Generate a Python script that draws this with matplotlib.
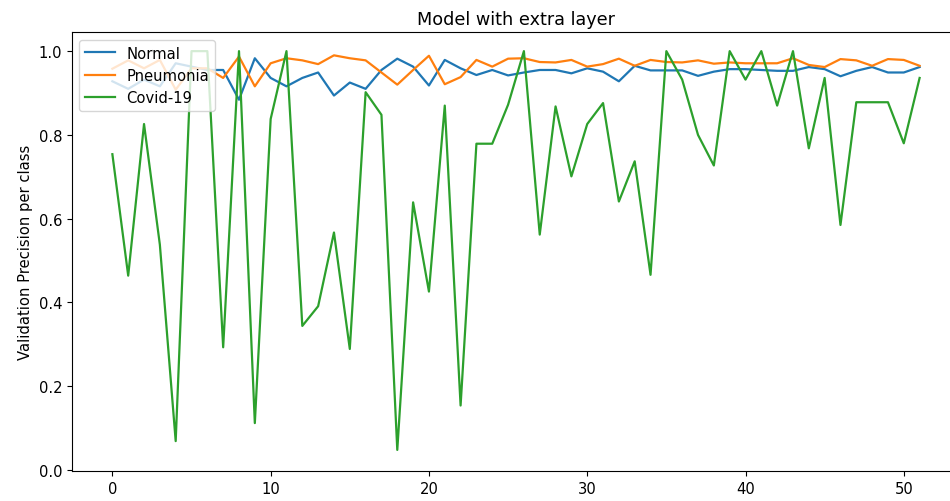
import matplotlib
matplotlib.use("Agg")
import matplotlib.pyplot as plt

#
# Values (52 epochs)
#
normal = [0.928, 0.910, 0.932, 0.916, 0.971, 0.963, 0.955, 0.955, 0.884, 0.983,
          0.936, 0.916, 0.936, 0.949, 0.894, 0.925, 0.910, 0.955, 0.982, 0.963,
          0.918, 0.979, 0.959, 0.943, 0.955, 0.942, 0.949, 0.955, 0.955, 0.947,
          0.959, 0.951, 0.928, 0.965, 0.954, 0.954, 0.954, 0.941, 0.951, 0.957,
          0.957, 0.955, 0.953, 0.953, 0.962, 0.957, 0.940, 0.953, 0.962, 0.949,
          0.949, 0.962]

pneumonia = [0.958, 0.978, 0.959, 0.979, 0.908, 0.959, 0.959, 0.936, 0.987, 0.916,
             0.971, 0.983, 0.978, 0.969, 0.990, 0.983, 0.978, 0.949, 0.920, 0.955,
             0.989, 0.921, 0.938, 0.979, 0.963, 0.982, 0.983, 0.974, 0.973, 0.979,
             0.963, 0.969, 0.982, 0.965, 0.979, 0.974, 0.973, 0.978, 0.970, 0.973,
             0.971, 0.971, 0.971, 0.983, 0.967, 0.962, 0.981, 0.978, 0.965, 0.981,
             0.979, 0.965]

covid = [0.754, 0.464, 0.826, 0.538, 0.069, 1.0, 1.0, 0.293, 1.0, 0.112,
         0.838, 1.0, 0.344, 0.391, 0.567, 0.289, 0.902, 0.848, 0.048, 0.639,
         0.426, 0.870, 0.154, 0.779, 0.779, 0.872, 1.0, 0.562, 0.868, 0.701,
         0.826, 0.876, 0.641, 0.737, 0.466, 1.0, 0.932, 0.800, 0.727, 1.0,
         0.932, 1.0, 0.870, 1.0, 0.768, 0.936, 0.585, 0.878, 0.878, 0.878,
         0.780, 0.936]

labels = ["Normal", "Pneumonia", "Covid-19"]

# the reference was rendered a touch larger than the defaults
plt.rcParams['font.size'] = 10.6
plt.rcParams['lines.linewidth'] = 1.6

# Create the figure
fig = plt.figure(figsize=(9.5, 5.02), dpi=100)
# right spine falls just outside the picture, as in the reference
ax = fig.add_axes([0.0758, 0.0592, 0.9347, 0.8745])

ax.plot(normal, label=labels[0])
ax.plot(pneumonia, label=labels[1])
ax.plot(covid, label=labels[2])

ax.set_ylim(-0.003, 1.045)
ax.set_title("Model with extra layer")
ax.set_ylabel("Validation Precision per class")
ax.legend(loc="upper left")

fig.savefig("out.png", dpi=100)
